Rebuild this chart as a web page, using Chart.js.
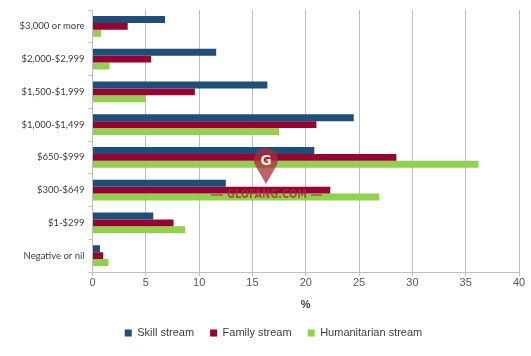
<!DOCTYPE html>
<html>
<head>
<meta charset="utf-8">
<script src="https://cdn.jsdelivr.net/npm/chart.js@4/dist/chart.umd.min.js"></script>
<style>
  html, body { margin: 0; padding: 0; background: #ffffff; }
  #wrap { width: 531px; height: 356px; position: relative; }
</style>
</head>
<body>
<div id="wrap"><canvas id="c" width="531" height="356"></canvas></div>
<script>
const categories = ["$3,000 or more", "$2,000-$2,999", "$1,500-$1,999", "$1,000-$1,499", "$650-$999", "$300-$649", "$1-$299", "Negative or nil"];
const skillStream = [6.8, 11.6, 16.4, 24.5, 20.8, 12.5, 5.7, 0.7];
const familyStream = [3.3, 5.5, 9.6, 21.0, 28.5, 22.3, 7.6, 1.0];
const humanitarianStream = [0.8, 1.6, 5.0, 17.5, 36.2, 26.9, 8.7, 1.5];
const seriesNames = ["Skill stream", "Family stream", "Humanitarian stream"];
const xTicks = [0, 5, 10, 15, 20, 25, 30, 35, 40];
const xTitle = "%";
const watermarkText = "GLOFANG.COM";

const watermark = {
  id: 'watermark',
  afterDatasetsDraw(chart) {
    const ctx = chart.ctx;
    ctx.save();
    const cx = 266;
    const col = 'rgba(168, 45, 55, 0.75)';
    ctx.fillStyle = col;
    ctx.strokeStyle = col;
    ctx.beginPath();
    ctx.arc(cx, 160, 12, Math.PI * 0.8, Math.PI * 2.2);
    ctx.lineTo(cx, 184);
    ctx.closePath();
    ctx.fill();
    ctx.fillStyle = 'rgba(255,255,255,0.85)';
    ctx.font = 'bold 14px "DejaVu Sans"';
    ctx.textAlign = 'center';
    ctx.textBaseline = 'middle';
    ctx.fillText('G', cx, 161);
    ctx.fillStyle = 'rgba(168, 45, 55, 0.8)';
    ctx.font = 'bold 12px "DejaVu Sans Condensed", "DejaVu Sans"';
    const w = ctx.measureText(watermarkText).width;
    ctx.save();
    ctx.translate(267, 195);
    ctx.scale(80 / w, 1);
    ctx.fillText(watermarkText, 0, 0);
    ctx.restore();
    ctx.lineWidth = 1.5;
    ctx.beginPath();
    ctx.moveTo(211, 195); ctx.lineTo(223, 195);
    ctx.moveTo(311, 195); ctx.lineTo(322, 195);
    ctx.stroke();
    ctx.restore();
  }
};

const legendShift = {
  id: 'legendShift',
  afterLayout(chart) {
    const lg = chart.legend;
    if (!lg) return;
    const off = 273.5 - (lg.left + lg.right) / 2;
    lg.left += off;
    lg.right += off;
  }
};

const gridGray = '#BFBFBF';

new Chart(document.getElementById('c'), {
  type: 'bar',
  data: {
    labels: categories,
    datasets: [
      { label: seriesNames[0], data: skillStream, backgroundColor: '#1F4E79' },
      { label: seriesNames[1], data: familyStream, backgroundColor: '#990033' },
      { label: seriesNames[2], data: humanitarianStream, backgroundColor: '#92D050' }
    ]
  },
  options: {
    indexAxis: 'y',
    responsive: false,
    animation: false,
    devicePixelRatio: 1,
    categoryPercentage: 0.64,
    barPercentage: 1.0,
    layout: { padding: { left: 0, right: 12, top: 10, bottom: 7.5 } },
    scales: {
      x: {
        min: 0, max: 40,
        afterBuildTicks(scale) { scale.ticks = xTicks.map(v => ({ value: v })); },
        afterFit(scale) { scale.height = 39.5; },
        grid: { color: gridGray, lineWidth: 1, tickLength: 4, drawTicks: true },
        border: { display: true, color: gridGray, width: 1 },
        ticks: { color: '#595959', padding: 0, font: { family: 'Liberation Sans', size: 11 } },
        title: { display: true, text: xTitle, color: '#404040', padding: { top: 1, bottom: 0 }, font: { family: 'Liberation Sans', size: 11, weight: 'bold' } }
      },
      y: {
        afterFit(scale) { scale.width = 92.5; },
        grid: { drawOnChartArea: false, drawTicks: true, tickLength: 4, color: gridGray },
        border: { display: true, color: gridGray, width: 1 },
        ticks: { color: '#404040', padding: 4, font: { family: 'Lato', size: 9.5 } }
      }
    },
    plugins: {
      legend: {
        position: 'bottom',
        labels: { boxWidth: 7, boxHeight: 7, padding: 16, color: '#404040', font: { family: 'Liberation Sans', size: 11 } }
      },
      tooltip: { enabled: false }
    }
  },
  plugins: [watermark, legendShift]
});
</script>
</body>
</html>
